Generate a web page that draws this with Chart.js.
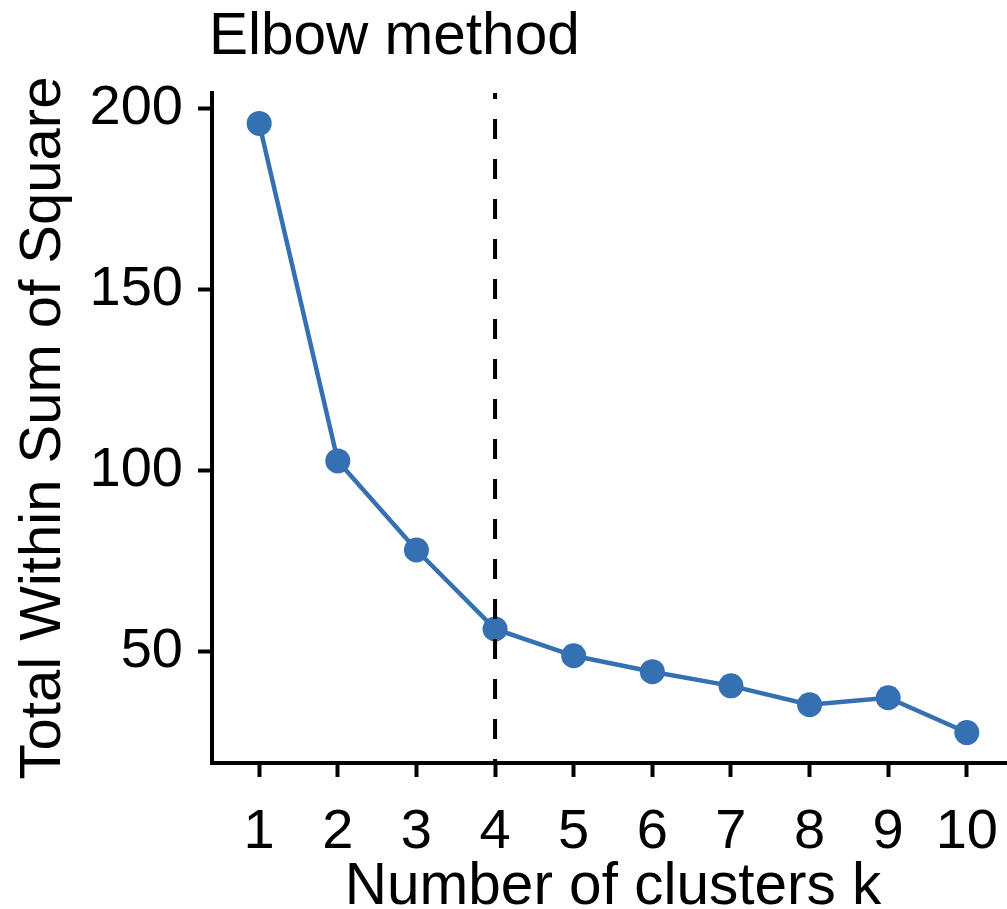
<!DOCTYPE html>
<html>
<head>
<meta charset="utf-8">
<title>Elbow method</title>
<script src="https://cdn.jsdelivr.net/npm/chart.js@4.4.1/dist/chart.umd.min.js"></script>
<style>
  html, body { margin: 0; padding: 0; background: #fff; overflow: hidden; }
  #wrap { width: 1014px; height: 909px; }
</style>
</head>
<body>
<div id="wrap"><canvas id="elbowChart" width="1014" height="909"></canvas></div>
<script>
// k-means: total within-cluster sum of squares per number of clusters
const clusters = [1, 2, 3, 4, 5, 6, 7, 8, 9, 10];
const wss = [195.9, 102.7, 78.1, 56.3, 48.9, 44.5, 40.6, 35.4, 37.3, 27.7];
const yTicks = [50, 100, 150, 200];
const elbowK = 4;

const lineColor = "#3570b2";
const fontFamily = "'Liberation Sans', Arial, sans-serif";

// ggplot-style 5% padding around the data on y, 0.6 units on x
const wssMin = Math.min(...wss);
const wssMax = Math.max(...wss);
const pad = (wssMax - wssMin) * 0.05;

//#region PLUGINS
const elbowLine = {
  id: "elbowLine",
  afterDatasetsDraw(chart) {
    const { ctx, chartArea, scales } = chart;
    const x = scales.x.getPixelForValue(elbowK);
    ctx.save();
    ctx.strokeStyle = "#000";
    ctx.lineWidth = 4;
    ctx.setLineDash([20, 20]);
    ctx.lineDashOffset = 14;
    ctx.beginPath();
    ctx.moveTo(x, chartArea.top);
    ctx.lineTo(x, chartArea.bottom);
    ctx.stroke();
    ctx.restore();
  },
};

const plotTitle = {
  id: "plotTitle",
  afterDraw(chart) {
    const { ctx } = chart;
    ctx.save();
    ctx.fillStyle = "#000";
    ctx.font = "58.5px " + fontFamily;
    ctx.textAlign = "left";
    ctx.textBaseline = "alphabetic";
    ctx.fillText("Elbow method", 209, 54);
    ctx.restore();
  },
};
//#endregion

//#region RENDER
function elbowGraph() {
  const points = clusters.map((k, i) => ({ x: k, y: wss[i] }));

  const ctx = document.getElementById("elbowChart").getContext("2d");
  const elbowChart = new Chart(ctx, {
    type: "line",
    data: {
      datasets: [
        {
          data: points,
          borderColor: lineColor,
          backgroundColor: lineColor,
          borderWidth: 4.5,
          pointRadius: 12.5,
          pointBorderWidth: 0,
          pointBackgroundColor: lineColor,
          tension: 0,
          clip: false,
        },
      ],
    },
    options: {
      responsive: false,
      animation: false,
      layout: {
        autoPadding: false,
        padding: { top: 93, right: 0, bottom: 0, left: 0 },
      },
      scales: {
        x: {
          type: "linear",
          min: clusters[0] - 0.6,
          max: clusters[clusters.length - 1] + 0.6,
          afterBuildTicks: (scale) => {
            scale.ticks = clusters.map((v) => ({ value: v }));
          },
          afterFit: (scale) => {
            scale.height = 146;
            // let the axis run to the canvas edge, like the plot panel
            scale.paddingLeft = 0;
            scale.paddingRight = 0;
          },
          border: { display: true, color: "#000", width: 4 },
          grid: {
            drawOnChartArea: false,
            drawTicks: true,
            tickLength: 14,
            tickWidth: 4,
            tickColor: "#000",
          },
          ticks: {
            color: "#000",
            padding: 22,
            maxRotation: 0,
            autoSkip: false,
            font: { family: fontFamily, size: 56 },
          },
          title: {
            display: true,
            text: "Number of clusters k",
            color: "#000",
            padding: { top: 0, bottom: -8 },
            font: { family: fontFamily, size: 58.5, lineHeight: 1 },
          },
        },
        y: {
          min: wssMin - pad,
          max: wssMax + pad,
          afterBuildTicks: (scale) => {
            scale.ticks = yTicks.map((v) => ({ value: v }));
          },
          afterFit: (scale) => {
            scale.width = 212;
          },
          border: { display: true, color: "#000", width: 4 },
          grid: {
            drawOnChartArea: false,
            drawTicks: true,
            tickLength: 14,
            tickWidth: 4,
            tickColor: "#000",
          },
          ticks: {
            color: "#000",
            padding: 15,
            font: { family: fontFamily, size: 56 },
          },
          title: {
            display: true,
            text: "Total Within Sum of Square",
            color: "#000",
            padding: { top: 9, bottom: 0 },
            font: { family: fontFamily, size: 58 },
          },
        },
      },
      plugins: {
        legend: { display: false },
        tooltip: { enabled: false },
      },
    },
    plugins: [elbowLine, plotTitle],
  });
}
//#endregion

elbowGraph();
</script>
</body>
</html>
